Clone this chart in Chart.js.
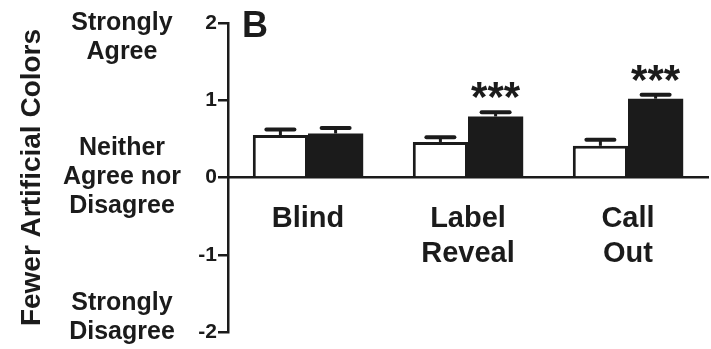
<!DOCTYPE html>
<html>
<head>
<meta charset="utf-8">
<script src="https://cdn.jsdelivr.net/npm/chart.js@4"></script>
<style>
  html, body { margin: 0; padding: 0; background: #ffffff; }
  #wrap { width: 711px; height: 349px; }
</style>
</head>
<body>
<div id="wrap"><canvas id="chart" width="711" height="349"></canvas></div>
<script>
// Conditions on the x axis (multi-line labels)
const categories = [['Blind'], ['Label', 'Reveal'], ['Call', 'Out']];

// Mean agreement scores and their standard errors
const whiteMeans = [0.55, 0.46, 0.41];
const whiteErrors = [0.07, 0.06, 0.08];
const blackMeans = [0.57, 0.79, 1.02];
const blackErrors = [0.07, 0.055, 0.05];

// Significance markers above the filled bars
const significance = ['', '***', '***'];

// Y axis range and tick values
const yTickValues = [-2, -1, 0, 1, 2];

// Likert anchors written beside the y axis
const anchorTexts = [['Strongly', 'Agree'], ['Neither', 'Agree nor', 'Disagree'], ['Strongly', 'Disagree']];
const anchorValues = [2, 0, -2];

const panelLetter = 'B';
const yTitle = 'Fewer Artificial Colors';

const INK = '#1b1b1b';
const FONT = "'Liberation Sans', Arial, sans-serif";

// Upward error bars with flat caps
const errorBarPlugin = {
  id: 'errorBars',
  afterDatasetsDraw(chart) {
    const ctx = chart.ctx;
    const yScale = chart.scales.y;
    chart.data.datasets.forEach((ds, di) => {
      const meta = chart.getDatasetMeta(di);
      meta.data.forEach((bar, i) => {
        const top = yScale.getPixelForValue(ds.data[i]);
        const capY = yScale.getPixelForValue(ds.data[i] + ds.errors[i]);
        ctx.save();
        ctx.strokeStyle = INK;
        ctx.lineWidth = 3;
        ctx.beginPath();
        ctx.moveTo(bar.x, top);
        ctx.lineTo(bar.x, capY);
        ctx.stroke();
        ctx.lineWidth = 4;
        ctx.lineCap = 'round';
        ctx.beginPath();
        ctx.moveTo(bar.x - 14, capY);
        ctx.lineTo(bar.x + 14, capY);
        ctx.stroke();
        ctx.restore();
        if (ds.marks && ds.marks[i]) {
          ctx.save();
          ctx.fillStyle = INK;
          ctx.font = 'bold 42px ' + FONT;
          ctx.textAlign = 'center';
          ctx.textBaseline = 'alphabetic';
          ctx.fillText(ds.marks[i], bar.x, capY - 1);
          ctx.restore();
        }
      });
    });
  }
};

// Panel letter and Likert anchor labels
const annotationPlugin = {
  id: 'annotations',
  afterDraw(chart) {
    const ctx = chart.ctx;
    const yScale = chart.scales.y;
    const area = chart.chartArea;
    ctx.save();
    ctx.fillStyle = INK;
    ctx.font = 'bold 36px ' + FONT;
    ctx.textAlign = 'left';
    ctx.textBaseline = 'alphabetic';
    ctx.fillText(panelLetter, area.left + 14, 37);

    ctx.font = 'bold 25px ' + FONT;
    ctx.textAlign = 'center';
    ctx.textBaseline = 'middle';
    const lh = 29;
    const cx = 122;
    anchorTexts.forEach((lines, k) => {
      const p = yScale.getPixelForValue(anchorValues[k]);
      let first;
      if (k === 0) first = p;                                  // hangs from the top tick
      else if (k === anchorTexts.length - 1) first = p - (lines.length - 1) * lh; // rests on the bottom tick
      else first = p - (lines.length - 1) * lh / 2;            // centred on its tick
      lines.forEach((t, j) => ctx.fillText(t, cx, first + j * lh));
    });
    ctx.restore();
  }
};

new Chart(document.getElementById('chart'), {
  type: 'bar',
  data: {
    labels: categories,
    datasets: [
      {
        data: whiteMeans,
        errors: whiteErrors,
        backgroundColor: '#ffffff',
        borderColor: INK,
        borderWidth: 3,
        borderSkipped: 'start',
        categoryPercentage: 0.69,
        barPercentage: 1.0
      },
      {
        data: blackMeans,
        errors: blackErrors,
        marks: significance,
        backgroundColor: INK,
        borderColor: INK,
        borderWidth: 0,
        categoryPercentage: 0.69,
        barPercentage: 1.0
      }
    ]
  },
  options: {
    responsive: false,
    animation: false,
    devicePixelRatio: 1,
    layout: { padding: { top: 23, bottom: 17, right: 3, left: 0 } },
    plugins: { legend: { display: false }, tooltip: { enabled: false } },
    scales: {
      x: {
        position: { y: 0 },
        grid: { display: true, drawOnChartArea: false, drawTicks: false },
        border: { display: true, color: INK, width: 2.5 },
        ticks: {
          color: INK,
          padding: 24,
          font: { family: FONT, size: 29, weight: 'bold', lineHeight: '35px' }
        }
      },
      y: {
        min: -2,
        max: 2,
        afterBuildTicks(scale) { scale.ticks = yTickValues.map(v => ({ value: v })); },
        afterFit(scale) { scale.width = 228; },
        grid: { drawOnChartArea: false, drawTicks: true, tickLength: 10, color: INK, lineWidth: 2.5 },
        border: { display: true, color: INK, width: 2.5 },
        ticks: {
          color: INK,
          padding: 1,
          font: { family: FONT, size: 21, weight: 'bold' }
        },
        title: {
          display: true,
          text: yTitle,
          color: INK,
          padding: { top: 15, bottom: 0 },
          font: { family: FONT, size: 28, weight: 'bold' }
        }
      }
    }
  },
  plugins: [errorBarPlugin, annotationPlugin]
});
</script>
</body>
</html>
